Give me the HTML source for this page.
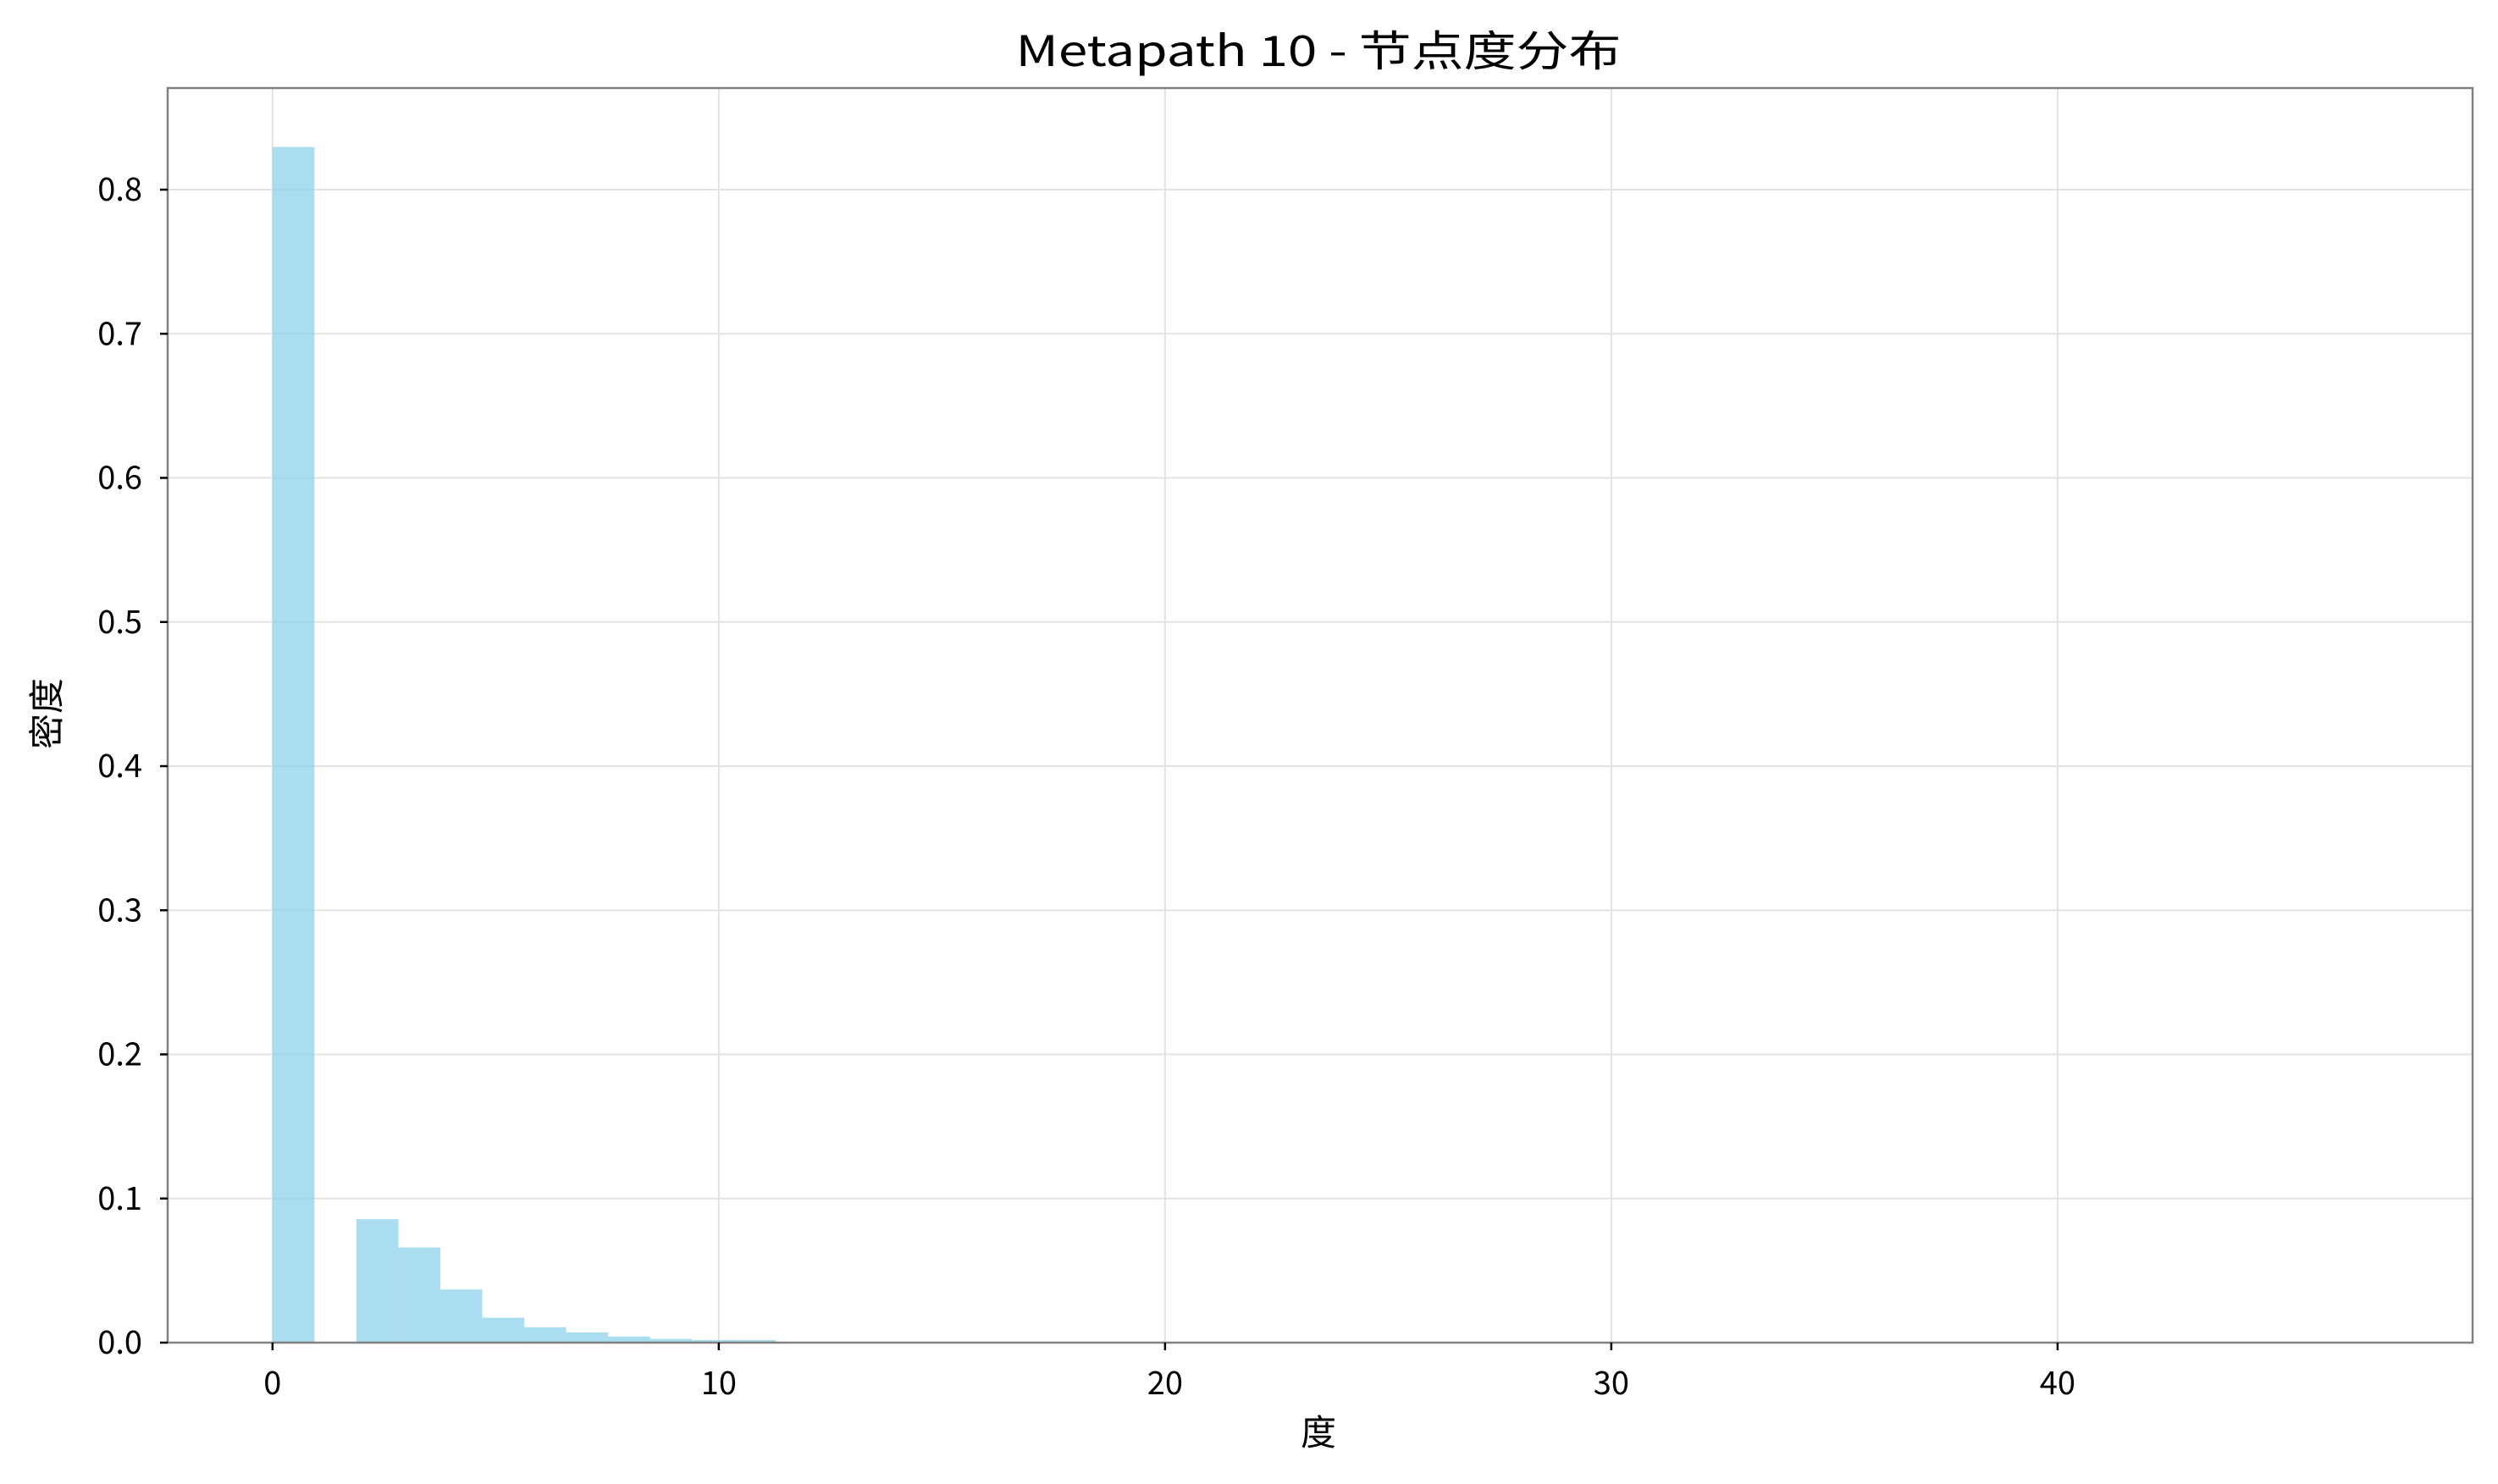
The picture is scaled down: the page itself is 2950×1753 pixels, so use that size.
<!DOCTYPE html>
<html><head><meta charset="utf-8"><style>
html,body{margin:0;padding:0;background:#fff;}
svg text{font-family:"WenQuanYi Zen Hei","Noto Sans CJK SC",sans-serif;fill:#000;}
</style></head><body>
<svg id="chart" width="2950" height="1748" xmlns="http://www.w3.org/2000/svg">
<rect width="2950" height="1748" fill="#fff"/>
<g id="grid"></g>
<g id="bars"></g>
<rect x="198" y="104" width="2722" height="1482" fill="none" stroke="#808080" stroke-width="2.5"/>
<g id="ticks"></g>
<text x="1557" y="78" text-anchor="middle" font-size="50" textLength="715" lengthAdjust="spacingAndGlyphs">Metapath 10 - 节点度分布</text>
<text x="1557" y="1707" text-anchor="middle" font-size="42">度</text>
<text transform="translate(70,843) rotate(-90)" text-anchor="middle" font-size="42">密度</text>
</svg>
<script>
const binStarts = [0,1,2,3,4,5,6,7,8,9,10,11,12,13,14];
const densities = [0.8296,0,0.0857,0.066,0.0369,0.0173,0.0107,0.0071,0.0042,0.0026,0.0018,0.0018,0.0004,0.0003,0.0002];
const binWidth = 0.94;
const xTicks = [0,10,20,30,40];
const yTicks = [0,0.1,0.2,0.3,0.4,0.5,0.6,0.7,0.8];
const yTickLabels = ["0.0","0.1","0.2","0.3","0.4","0.5","0.6","0.7","0.8"];

const L=198,R=2920,T=104,B=1586;
const xMin=-2.35,xMax=49.3,yMin=0,yMax=0.8705;
const sx=v=>L+(v-xMin)/(xMax-xMin)*(R-L);
const sy=v=>B-(v-yMin)/(yMax-yMin)*(B-T);
const NS="http://www.w3.org/2000/svg";
const grid=document.getElementById('grid'),bars=document.getElementById('bars'),ticks=document.getElementById('ticks');
function mk(tag,attrs,parent){const e=document.createElementNS(NS,tag);for(const k in attrs)e.setAttribute(k,attrs[k]);parent.appendChild(e);return e;}
xTicks.forEach(t=>{
  const gl=mk('line',{x1:sx(t),x2:sx(t),y1:T,y2:B,stroke:'#e3e3e3','stroke-width':2},grid);
  
  
  const tk=mk('line',{x1:sx(t),x2:sx(t),y1:B,y2:B+9,stroke:'#000','stroke-width':2.5},ticks);
  
  
  const tx=mk('text',{x:sx(t),y:1647,'text-anchor':'middle','font-size':38},ticks);
  tx.textContent=String(t);
  
  
});
yTicks.forEach((t,i)=>{
  const gl=mk('line',{x1:L,x2:R,y1:sy(t),y2:sy(t),stroke:'#e3e3e3','stroke-width':2},grid);
  
  
  const tk=mk('line',{x1:L-9,x2:L,y1:sy(t),y2:sy(t),stroke:'#000','stroke-width':2.5},ticks);
  
  
  const tx=mk('text',{x:168,y:sy(t)+13,'text-anchor':'end','font-size':38},ticks);
  tx.textContent=yTickLabels[i];
  
  
});
binStarts.forEach((b,i)=>{
  const x0=sx(b*binWidth),x1=sx((b+1)*binWidth),y=sy(densities[i]);
  const r=mk('rect',{x:x0,y:y,width:x1-x0,height:B-y,fill:'#87ceeb','fill-opacity':0.7},bars);
  
  
});
</script>
</body></html>
